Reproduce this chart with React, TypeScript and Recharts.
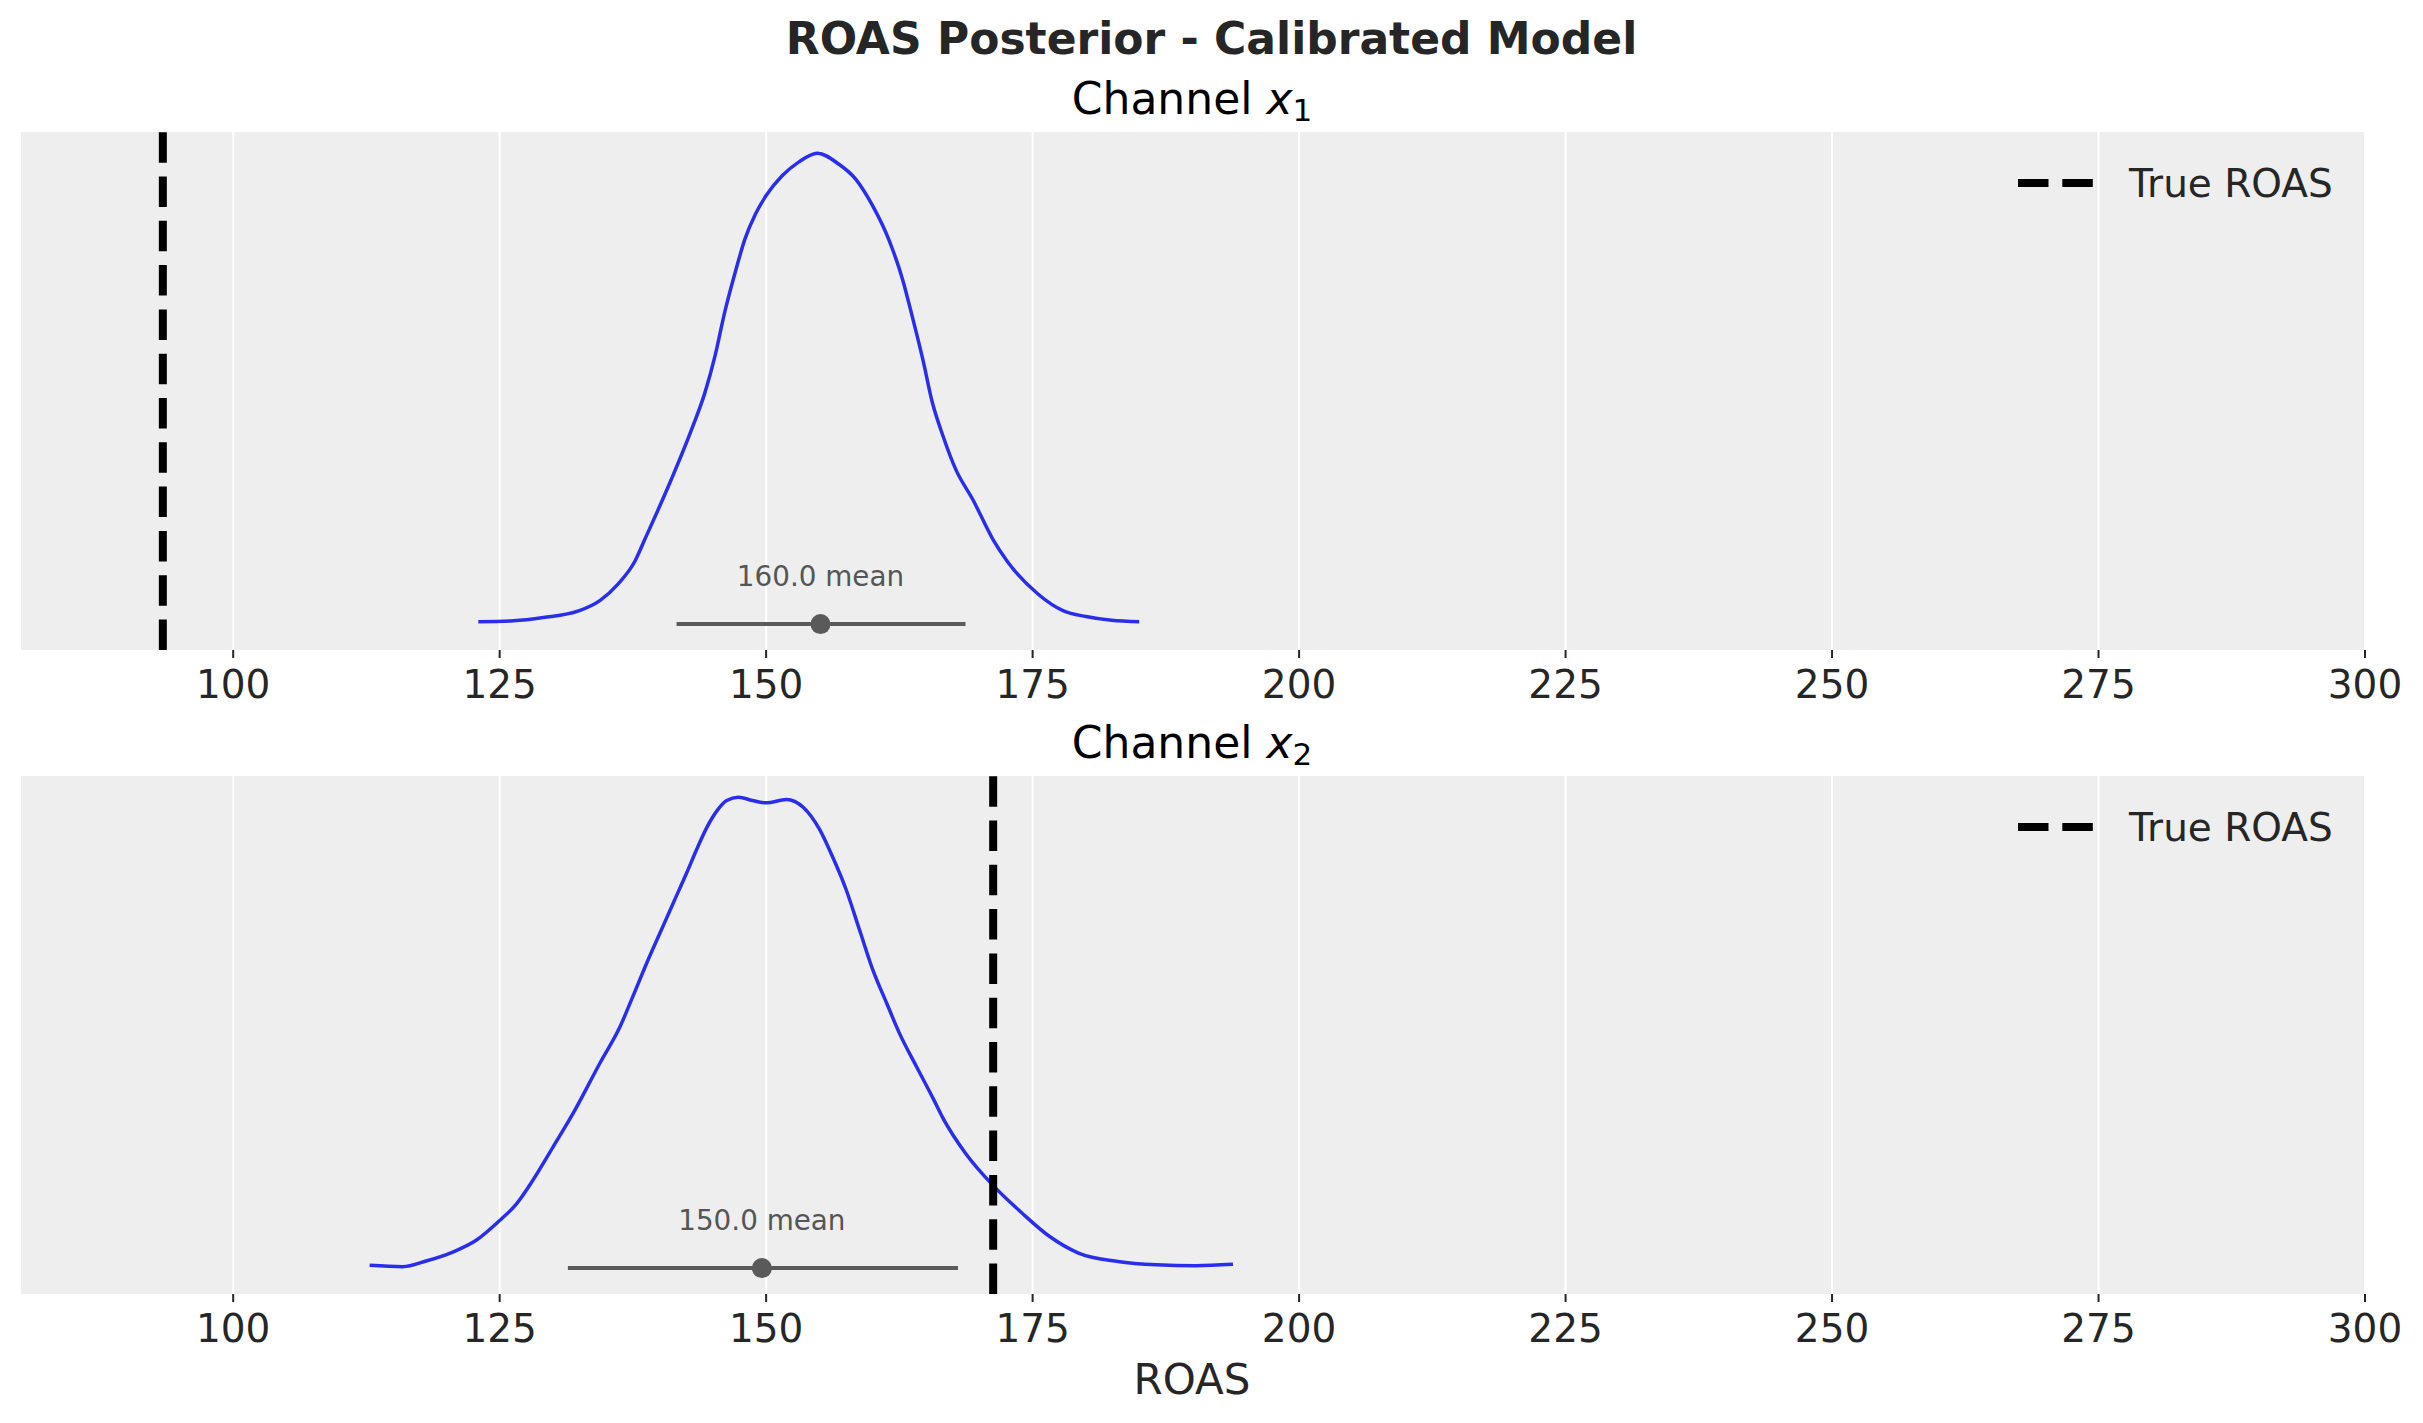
import { CartesianGrid, ComposedChart, Legend, Line, ReferenceDot, ReferenceLine, XAxis, YAxis } from 'recharts'

const FONT = '"DejaVu Sans", sans-serif'
const TEXT = '#262626'

const roasTicks = [100, 125, 150, 175, 200, 225, 250, 275, 300]

// KDE of the ROAS posterior, channel x1 (density scaled to peak = 1)
const roasGrid1 = [
  123.0, 126.3, 129.1, 132.4, 134.4, 136.1, 137.7, 138.6, 141.1, 143.0, 144.25, 145.2, 146.1, 147.1, 148.0,
  149.0, 150.0, 151.5, 153.05, 154.8, 156.8, 158.4, 160.0, 161.5, 162.8, 163.7, 164.7, 165.6, 166.6, 167.8,
  169.4, 171.3, 172.6, 175.5, 177.9, 180.0, 182.4, 185.0,
]
const density1 = [
  0.005, 0.007, 0.014, 0.028, 0.05, 0.085, 0.134, 0.179, 0.307, 0.413, 0.491, 0.569, 0.661, 0.747, 0.817,
  0.871, 0.91, 0.952, 0.981, 1.0, 0.977, 0.945, 0.888, 0.817, 0.732, 0.654, 0.562, 0.47, 0.399, 0.328,
  0.264, 0.179, 0.134, 0.064, 0.028, 0.016, 0.008, 0.005,
]

// KDE of the ROAS posterior, channel x2
const roasGrid2 = [
  112.8, 115.9, 118.1, 120.6, 122.8, 125.0, 126.6, 128.1, 130.0, 131.9, 134.4, 136.3, 137.5, 138.8, 140.05,
  141.3, 142.56, 143.5, 144.44, 145.38, 146.3, 147.4, 148.7, 150.0, 151.9, 153.5, 155.0, 156.2, 157.5, 158.75,
  160.0, 161.3, 162.5, 164.1, 165.65, 166.6, 168.7, 171.4, 174.0, 176.6, 179.3, 183.0, 186.6, 190.3, 193.8,
]
const density2 = [
  0.006, 0.003, 0.015, 0.034, 0.059, 0.101, 0.137, 0.186, 0.257, 0.329, 0.435, 0.513, 0.577, 0.648, 0.712,
  0.776, 0.84, 0.89, 0.936, 0.971, 0.993, 1.0, 0.993, 0.988, 0.995, 0.978, 0.932, 0.875, 0.804, 0.719,
  0.634, 0.563, 0.499, 0.428, 0.361, 0.318, 0.244, 0.173, 0.117, 0.067, 0.032, 0.014, 0.007, 0.005, 0.008,
]

const channels = ['1', '2']
const trueRoas = [93.4, 171.3]
const hdiLow = [141.6, 131.4]
const hdiHigh = [168.7, 168.0]
const pointEstimate = [155.1, 149.6]
const meanLabels = ['160.0 mean', '150.0 mean']

const grids = [roasGrid1, roasGrid2]
const densities = [density1, density2]

const W = 2423
const CH = 779
const PANEL_STEP = 644
const DASH = '30.5 13.8'

function TrueRoasLegend() {
  return (
    <svg width={330} height={50} style={{ display: 'block' }}>
      <line x1={0} x2={75} y1={25} y2={25} stroke="#000" strokeWidth={8} strokeDasharray={DASH} />
      <text x={111} y={39} fontSize={39} fill={TEXT} fontFamily={FONT}>
        True ROAS
      </text>
    </svg>
  )
}

function Panel({ i }: { i: number }) {
  const kde = grids[i].map((x, k) => ({ x, d: densities[i][k] }))
  const hdi = [
    { x: hdiLow[i], d: 0 },
    { x: hdiHigh[i], d: 0 },
  ]
  return (
    <div style={{ position: 'absolute', left: 0, top: i * PANEL_STEP, width: W, height: CH }}>
      <ComposedChart width={W} height={CH} margin={{ top: 132, right: 58, bottom: 69, left: 20 }}>
        <CartesianGrid horizontal={false} stroke="#ffffff" strokeWidth={2} fill="#eeeeee" fillOpacity={1} />
        <XAxis
          dataKey="x"
          type="number"
          domain={[80, 300]}
          ticks={roasTicks}
          interval={0}
          allowDataOverflow
          height={60}
          axisLine={false}
          tickSize={8}
          tickMargin={12}
          tickLine={{ stroke: TEXT, strokeWidth: 2 }}
          tick={{ fontSize: 39, fill: TEXT, fontFamily: FONT }}
        />
        <YAxis hide type="number" domain={[-0.055, 1.045]} allowDataOverflow width={0} />
        <Line
          data={kde}
          dataKey="d"
          type="monotone"
          stroke="#2a2eec"
          strokeWidth={3.5}
          dot={false}
          isAnimationActive={false}
          legendType="none"
        />
        <Line
          data={hdi}
          dataKey="d"
          type="linear"
          stroke="#5a5a5a"
          strokeWidth={4}
          dot={false}
          isAnimationActive={false}
          legendType="none"
        />
        <ReferenceDot
          x={pointEstimate[i]}
          y={0}
          r={10}
          fill="#5a5a5a"
          stroke="none"
          label={{ value: meanLabels[i], position: 'top', offset: 28, fontSize: 27.8, fill: '#555555', fontFamily: FONT }}
        />
        <ReferenceLine x={trueRoas[i]} stroke="#000000" strokeWidth={8} strokeDasharray={DASH} />
        <Legend
          layout="horizontal"
          verticalAlign="middle"
          align="center"
          content={() => <TrueRoasLegend />}
          wrapperStyle={{ left: 2018, top: 158, width: 330, height: 50 }}
        />
      </ComposedChart>
    </div>
  )
}

export default function App() {
  return (
    <div
      style={{
        position: 'absolute',
        left: 0,
        top: 0,
        width: W,
        height: 1423,
        background: '#ffffff',
        overflow: 'hidden',
        fontFamily: FONT,
      }}
    >
      {channels.map((_, i) => (
        <Panel key={i} i={i} />
      ))}
      <svg
        width={W}
        height={1423}
        style={{ position: 'absolute', left: 0, top: 0, pointerEvents: 'none' }}
        fontFamily={FONT}
      >
        <text x={1211.5} y={54} textAnchor="middle" fontSize={44} fontWeight="bold" fill={TEXT}>
          ROAS Posterior - Calibrated Model
        </text>
        {channels.map((c, i) => (
          <text key={c} x={1192} y={114 + i * PANEL_STEP} textAnchor="middle" fontSize={44} fill="#000000">
            Channel <tspan fontStyle="italic">x</tspan>
            <tspan fontSize={31} dy={7}>
              {c}
            </tspan>
          </text>
        ))}
        <text x={1192} y={1394} textAnchor="middle" fontSize={42} fill={TEXT}>
          ROAS
        </text>
      </svg>
    </div>
  )
}
